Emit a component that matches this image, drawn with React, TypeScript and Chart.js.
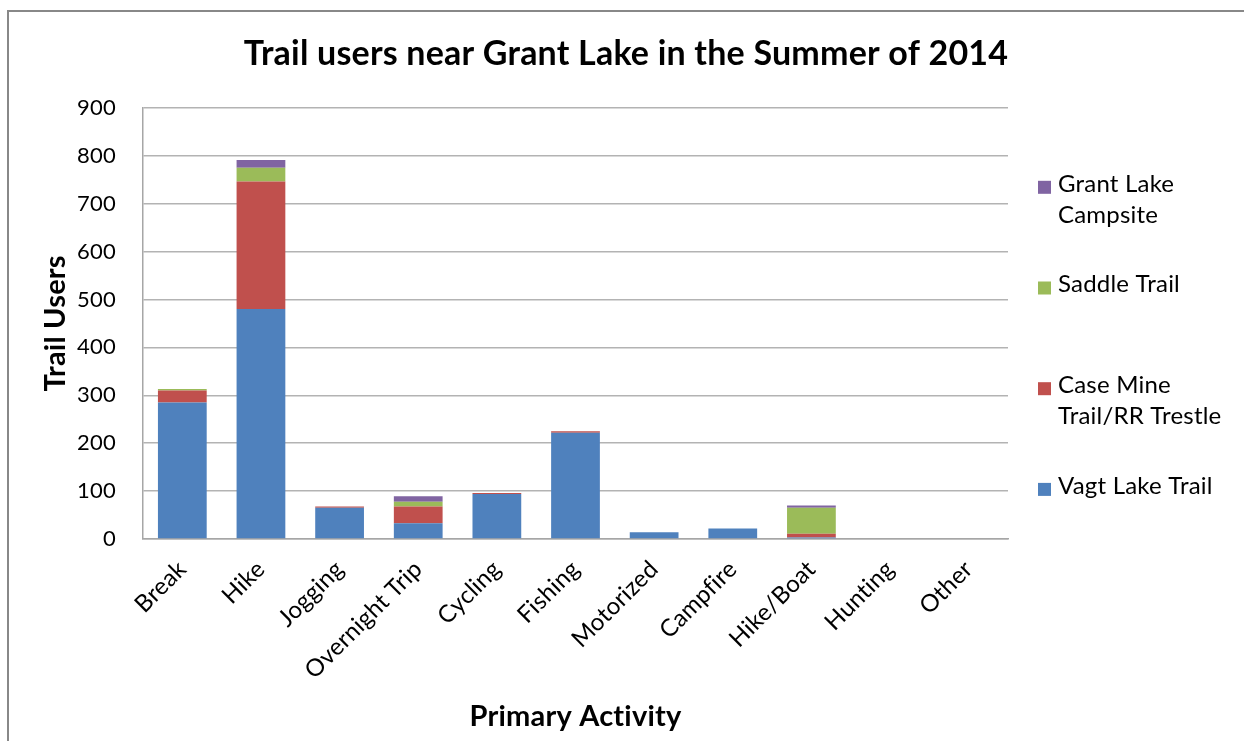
import React, { useEffect, useRef } from "react";
import { Chart, registerables } from "chart.js";

Chart.register(...registerables);

const categories = [
  "Break",
  "Hike",
  "Jogging",
  "Overnight Trip",
  "Cycling",
  "Fishing",
  "Motorized",
  "Campfire",
  "Hike/Boat",
  "Hunting",
  "Other",
];
const vagtLakeTrail = [285, 480, 65, 33, 94, 222, 14, 22, 3, 0, 0];
const caseMineTrail = [25, 266, 3, 35, 2, 3, 0, 0, 8, 0, 0];
const saddleTrail = [3, 29, 0, 10, 0, 0, 0, 0, 54, 0, 0];
const grantLakeCampsite = [0, 16, 0, 11, 0, 0, 0, 0, 5, 0, 0];
const seriesNames = [
  "Vagt Lake Trail",
  "Case Mine\nTrail/RR Trestle",
  "Saddle Trail",
  "Grant Lake\nCampsite",
];
const seriesColors = ["#4F81BD", "#C0504D", "#9BBB59", "#8064A2"];
const yMin = 0;
const yMax = 900;
const yStep = 100;
const titleText = "Trail users near Grant Lake in the Summer of 2014";
const xTitle = "Primary Activity";
const yTitle = "Trail Users";

const FONT = "Lato, 'Open Sans', sans-serif";

const noLigaturePlugin = {
  id: "noLigatures",
  beforeDraw(chart: any) {
    try {
      (chart.ctx as any).letterSpacing = "0.2px";
    } catch (e) {
      /* ignore */
    }
  },
};

const legendPlugin = {
  id: "sideLegend",
  afterDraw(chart: any) {
    const ctx = chart.ctx;
    const ds = chart.data.datasets;
    const x0 = chart.chartArea.right + 30;
    const startY = chart.chartArea.top + 76;
    const step = 100.7;
    const lineH = 31;
    ctx.save();
    ctx.font = `24px ${FONT}`;
    ctx.textBaseline = "middle";
    ctx.textAlign = "left";
    for (let i = ds.length - 1, k = 0; i >= 0; i--, k++) {
      const y = startY + k * step;
      ctx.fillStyle = ds[i].backgroundColor;
      ctx.fillRect(x0, y - 3, 13, 13);
      ctx.fillStyle = "#000";
      const lines = String(ds[i].label).split("\n");
      lines.forEach((t: string, j: number) => {
        ctx.fillText(t, x0 + 20, y + j * lineH);
      });
    }
    ctx.restore();
  },
};

export default function App() {
  const ref = useRef<HTMLCanvasElement | null>(null);

  useEffect(() => {
    if (!ref.current) return;
    const series = [vagtLakeTrail, caseMineTrail, saddleTrail, grantLakeCampsite];
    const chart = new Chart(ref.current, {
      type: "bar",
      data: {
        labels: categories,
        datasets: series.map((d, i) => ({
          label: seriesNames[i],
          data: d,
          backgroundColor: seriesColors[i],
          borderWidth: 0,
          barPercentage: 0.62,
          categoryPercentage: 1,
          stack: "s",
        })),
      },
      plugins: [noLigaturePlugin, legendPlugin],
      options: {
        responsive: false,
        animation: false,
        layout: { padding: { left: 8, right: 0, top: 0, bottom: 0 } },
        plugins: {
          legend: { display: false },
          tooltip: { enabled: false },
          title: {
            display: true,
            text: titleText,
            color: "#000",
            font: { family: FONT, size: 34, weight: "bold" },
            padding: { top: 34, bottom: 33 },
          },
        },
        scales: {
          x: {
            stacked: true,
            grid: { display: false, drawTicks: false },
            border: { display: true, color: "#a6a6a6", width: 1.5 },
            ticks: {
              color: "#000",
              font: { family: FONT, size: 24 },
              minRotation: 45,
              maxRotation: 45,
              padding: 16,
              autoSkip: false,
            },
            title: {
              display: true,
              text: xTitle,
              color: "#000",
              font: { family: FONT, size: 29, weight: "bold" },
              padding: { top: 0, bottom: 7 },
            },
            afterFit(scale: any) {
              scale.height = 202;
            },
          },
          y: {
            stacked: true,
            min: yMin,
            max: yMax,
            grid: { color: "#b3b3b3", lineWidth: 1.5, drawTicks: false, tickLength: 0 },
            border: { display: true, color: "#a6a6a6", width: 1.5 },
            ticks: {
              stepSize: yStep,
              color: "#000",
              font: { family: FONT, size: 22 },
              padding: 27,
            },
            title: {
              display: true,
              text: yTitle,
              color: "#000",
              font: { family: FONT, size: 29, weight: "bold" },
              padding: { top: 30, bottom: 0 },
            },
            afterFit(scale: any) {
              scale.width = 135;
            },
          },
          yRight: {
            position: "right",
            display: true,
            grid: { display: false, drawTicks: false },
            border: { display: false },
            ticks: { display: false },
            afterFit(scale: any) {
              scale.width = 236;
            },
          },
        },
      },
    } as any);
    return () => chart.destroy();
  }, []);

  return (
    <div
      style={{
        position: "fixed",
        left: 0,
        top: 0,
        width: 1244,
        height: 741,
        background: "#fff",
        overflow: "hidden",
      }}
    >
      <div
        style={{
          position: "absolute",
          left: 7,
          top: 10,
          width: 1244,
          height: 741,
          borderTop: "2px solid #888",
          borderLeft: "2px solid #888",
          boxSizing: "border-box",
        }}
      />
      <canvas
        ref={ref}
        width={1244}
        height={741}
        style={{ position: "absolute", left: 0, top: 0, display: "block" }}
      />
    </div>
  );
}
